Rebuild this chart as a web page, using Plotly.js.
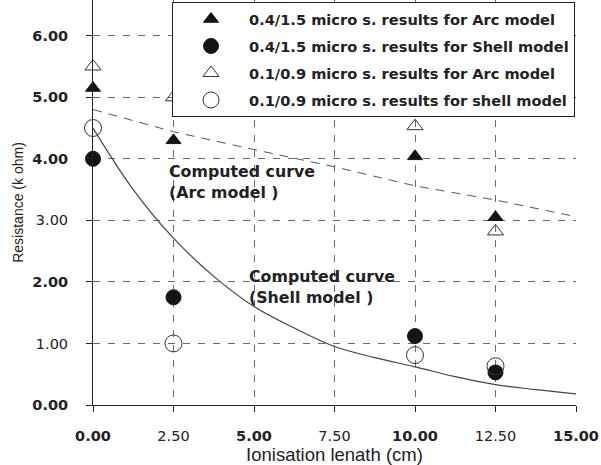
<!DOCTYPE html>
<html>
<head>
<meta charset="utf-8">
<script src="https://cdn.plot.ly/plotly-3.0.1.min.js"></script>
<style>html,body{margin:0;padding:0;background:#fff;}#chart{width:601px;height:465px;}</style>
</head>
<body>
<div id="chart"></div>
<script>
// Measured data points
var xPts = [0, 2.5, 10, 12.5];
var arcLong = [5.15, 4.3, 4.04, 3.05];      // 0.4/1.5 micro s. Arc model (filled triangles)
var shellLong = [4.0, 1.75, 1.12, 0.53];    // 0.4/1.5 micro s. Shell model (filled circles)
var arcShort = [5.5, 5.0, 4.53, 2.82];      // 0.1/0.9 micro s. Arc model (open triangles)
var shellShort = [4.5, 1.0, 0.81, 0.63];    // 0.1/0.9 micro s. Shell model (open circles)

// Computed curves
var arcCurveX = [0, 2.5, 5, 7.5, 10, 12.5, 15];
var arcCurveY = [4.8, 4.44, 4.15, 3.87, 3.56, 3.33, 3.06];
var shellCurveX = [0, 1.25, 2.5, 3.75, 5, 6.25, 7.5, 8.75, 10, 11.25, 12.5, 13.75, 15];
var shellCurveY = [4.5, 3.5, 2.71, 2.09, 1.6, 1.25, 0.95, 0.77, 0.62, 0.46, 0.33, 0.25, 0.18];

var legendNames = [
  '0.4/1.5 micro s. results for Arc model',
  '0.4/1.5 micro s. results for Shell model',
  '0.1/0.9 micro s. results for Arc model',
  '0.1/0.9 micro s. results for shell model'
];
var xTicks = [0, 2.5, 5, 7.5, 10, 12.5, 15];
var xTickText = ['0.00', '2.50', '5.00', '7.50', '10.00', '12.50', '15.00'];
var yTicks = [0, 1, 2, 3, 4, 5, 6];
var yTickText = ['0.00', '1.00', '2.00', '3.00', '4.00', '5.00', '6.00'];
var annoArc = 'Computed curve<br>(Arc model )';
var annoShell = 'Computed curve<br>(Shell model )';

// Scanned print: some tick labels came out heavier than others
function styleTicks(labels, lightVals, vals) {
  return labels.map(function(t, i) {
    return lightVals.indexOf(vals[i]) >= 0 ? t : '<b>' + t + '</b>';
  });
}

var ink = '#141414';
var traces = [
  {x: arcCurveX, y: arcCurveY, mode: 'lines', line: {color: '#555', width: 1, dash: '9px,7px'}, showlegend: false, hoverinfo: 'skip'},
  {x: shellCurveX, y: shellCurveY, mode: 'lines', line: {color: '#444', width: 1.2, shape: 'spline'}, showlegend: false, hoverinfo: 'skip'},
  {x: xPts, y: arcLong, mode: 'markers', name: legendNames[0], legendgroup: 'a',
   marker: {symbol: 'triangle-up', size: 13, color: ink, line: {color: ink, width: 1}}},
  {x: xPts, y: shellLong, mode: 'markers', name: legendNames[1], legendgroup: 'b',
   marker: {symbol: 'circle', size: 15, color: ink, line: {color: ink, width: 1}}},
  {x: xPts, y: arcShort, mode: 'markers', name: legendNames[2], legendgroup: 'c',
   marker: {symbol: 'triangle-up-open', size: 14, color: '#333', line: {color: '#333', width: 1}}},
  {x: xPts, y: shellShort, mode: 'markers', name: legendNames[3], legendgroup: 'd',
   marker: {symbol: 'circle-open', size: 17, color: '#333', line: {color: '#333', width: 1}}}
];

var tickFontFamily = 'DejaVu Sans, Verdana, sans-serif';
var layout = {
  width: 601, height: 465,
  margin: {l: 93, r: 25, t: 0, b: 60},
  paper_bgcolor: '#ffffff', plot_bgcolor: '#ffffff',
  font: {family: 'Liberation Sans, Arial, sans-serif', color: '#222'},
  showlegend: true,
  legend: {
    x: 0.1636, y: 0.995, xanchor: 'left', yanchor: 'top',
    bgcolor: '#ffffff', bordercolor: '#222', borderwidth: 1,
    font: {family: tickFontFamily, size: 14.6, color: '#222', weight: 'bold'},
    tracegroupgap: 5, itemwidth: 66
  },
  xaxis: {
    range: [0, 15], tickvals: xTicks, ticktext: styleTicks(xTickText, [2.5, 7.5, 12.5], xTicks),
    showgrid: true, gridcolor: '#6a6a6a', griddash: '7px,8px', gridwidth: 1,
    zeroline: false, showline: true, linecolor: '#222', linewidth: 1,
    ticks: 'outside', ticklen: 6, tickcolor: '#222', ticklabelstandoff: 12,
    tickfont: {family: tickFontFamily, size: 14.5, color: '#222'},
    title: {text: 'Ionisation lenath (cm)', font: {size: 18.5, color: '#222'}, standoff: 0}
  },
  yaxis: {
    range: [0, 6.58], tickvals: yTicks, ticktext: styleTicks(yTickText, [1, 3], yTicks),
    showgrid: true, gridcolor: '#6a6a6a', griddash: '7px,8px', gridwidth: 1,
    zeroline: false, showline: true, linecolor: '#222', linewidth: 1,
    ticks: 'outside', ticklen: 6, tickcolor: '#222', ticklabelstandoff: 15,
    tickfont: {family: tickFontFamily, size: 14.5, color: '#222'},
    title: {text: 'Resistance (k ohm)', font: {size: 14, color: '#222'}, standoff: 5}
  },
  annotations: [
    {x: 2.3, y: 3.98, xref: 'x', yref: 'y', xanchor: 'left', yanchor: 'top', showarrow: false, align: 'left',
     text: annoArc,
     font: {family: tickFontFamily, size: 15.8, weight: 'bold', color: '#222'}},
    {x: 4.78, y: 2.28, xref: 'x', yref: 'y', xanchor: 'left', yanchor: 'top', showarrow: false, align: 'left',
     text: annoShell,
     font: {family: tickFontFamily, size: 15.8, weight: 'bold', color: '#222'}}
  ]
};

traces.forEach(function(t){ if (t.mode === 'markers') t.cliponaxis = false; });
Plotly.newPlot('chart', traces, layout, {displayModeBar: false, staticPlot: true});
</script>
</body>
</html>
